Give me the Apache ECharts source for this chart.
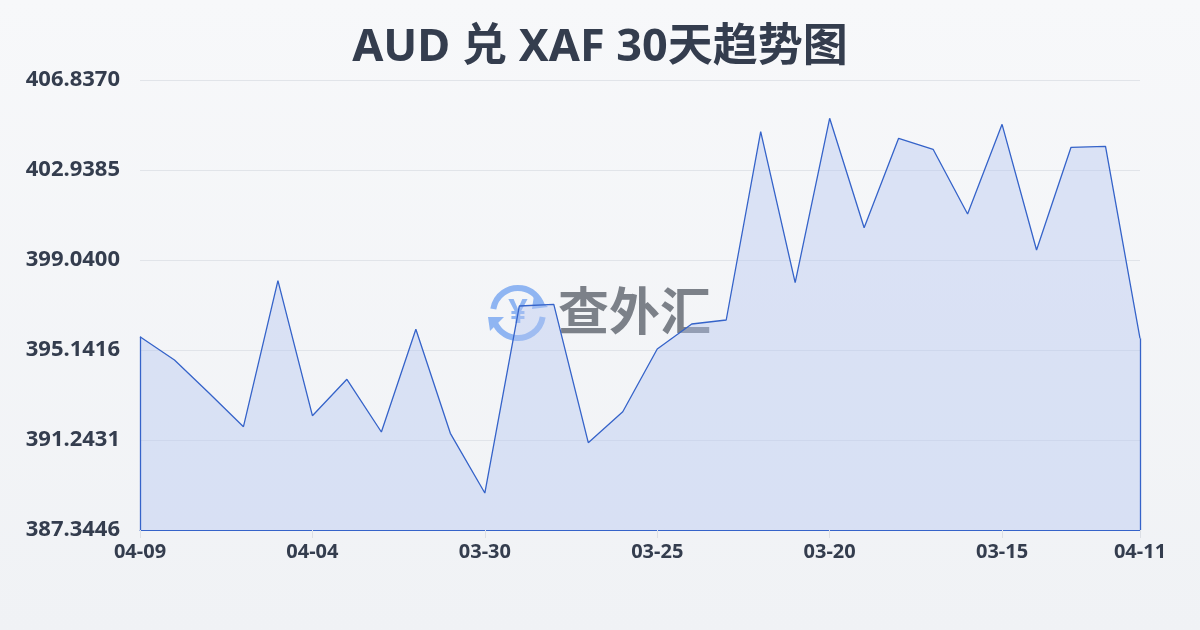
<!DOCTYPE html>
<html>
<head>
<meta charset="utf-8">
<script src="https://cdn.jsdelivr.net/npm/echarts@6/dist/echarts.min.js"></script>
<style>
  html, body { margin: 0; padding: 0; }
  body { width: 1200px; height: 630px; background: linear-gradient(180deg, #f7f8fa 0%, #f0f2f5 100%); }
  #chart { width: 1200px; height: 630px; }
</style>
</head>
<body>
<div id="chart"></div>
<script>
const titleText = 'AUD 兑 XAF 30天趋势图';
const categories = ['04-09','04-08','04-07','04-06','04-05','04-04','04-03','04-02','04-01','03-31',
                    '03-30','03-29','03-28','03-27','03-26','03-25','03-24','03-23','03-22','03-21',
                    '03-20','03-19','03-18','03-17','03-16','03-15','03-14','03-13','03-12','04-11'];
const rates = [395.718, 394.708, 393.279, 391.819, 398.143, 392.296, 393.872, 391.590, 396.038, 391.533,
               388.947, 397.047, 397.121, 391.126, 392.469, 395.185, 396.268, 396.441, 404.598, 398.057,
               405.178, 400.439, 404.311, 403.835, 401.033, 404.918, 399.473, 403.922, 403.965, 395.648];
const yTicks = [387.3446, 391.2431, 395.1416, 399.0400, 402.9385, 406.8370];

const FONT = '"Noto Sans", "Noto Sans CJK SC", sans-serif';
const TEXT = '#343d4e';
const LINE = '#3563c9';
const yMin = yTicks[0], yMax = yTicks[yTicks.length - 1];
const lastIdx = categories.length - 1;
const showIdx = (i) => i % 5 === 0 || i === lastIdx;

const chart = echarts.init(document.getElementById('chart'));
chart.setOption({
  backgroundColor: 'transparent',
  animation: false,
  title: {
    text: titleText,
    left: 'center',
    top: 21,
    textStyle: { fontFamily: FONT, fontSize: 45, fontWeight: 'bold', color: TEXT }
  },
  graphic: [
    {
      type: 'group',
      left: 488, top: 285, silent: true,
      children: [
        { type: 'arc', shape: { cx: 32, cy: 32, r: 25, startAngle: -Math.PI * 0.95, endAngle: -Math.PI * 0.1 },
          style: { fill: 'none', stroke: '#8fb5f2', lineWidth: 6 } },
        { type: 'arc', shape: { cx: 32, cy: 32, r: 25, startAngle: Math.PI * 0.05, endAngle: Math.PI * 0.9 },
          style: { fill: 'none', stroke: '#8fb5f2', lineWidth: 6 } },
        { type: 'polygon', shape: { points: [[48, 14], [62, 26], [46, 28]] }, style: { fill: '#8fb5f2' } },
        { type: 'polygon', shape: { points: [[2, 36], [18, 36], [4, 50]] }, style: { fill: '#8fb5f2' } },
        { type: 'text', style: { x: 32, y: 32, text: '¥', fontSize: 34, fontWeight: 'bold',
          fill: '#8fb5f2', align: 'center', verticalAlign: 'middle', fontFamily: FONT } },
        { type: 'text', style: { x: 72, y: 30, text: '查外汇', fontSize: 51, fontWeight: 'bold',
          fill: '#7c8189', align: 'left', verticalAlign: 'middle', fontFamily: '"Noto Sans CJK SC", sans-serif' } }
      ]
    }
  ],
  grid: { left: 140, right: 60, top: 80, bottom: 100, containLabel: false },
  xAxis: {
    type: 'category',
    boundaryGap: false,
    data: categories,
    axisLine: { show: true, lineStyle: { color: LINE, width: 1 } },
    axisTick: { show: true, interval: (i) => showIdx(i), length: 8, lineStyle: { color: '#dcdfe5' } },
    axisLabel: {
      interval: (i) => showIdx(i),
      margin: 12,
      fontFamily: FONT, fontSize: 20, fontWeight: 'bold', color: TEXT
    },
    splitLine: { show: false }
  },
  yAxis: {
    type: 'value',
    min: yMin,
    max: yMax,
    axisLine: { show: false },
    axisTick: { show: false, customValues: yTicks },
    axisLabel: {
      customValues: yTicks,
      margin: 20,
      formatter: (v) => v.toFixed(4),
      fontFamily: FONT, fontSize: 22, fontWeight: 'bold', color: TEXT
    },
    splitLine: { show: true, lineStyle: { color: '#e1e4e9', width: 1 } }
  },
  series: [{
    type: 'line',
    data: rates,
    symbol: 'none',
    lineStyle: { color: LINE, width: 1.3 },
    areaStyle: { color: 'rgba(180,198,240,0.6)', origin: 'start' },
    markLine: {
      silent: true,
      symbol: 'none',
      label: { show: false },
      lineStyle: { color: LINE, width: 1.3, type: 'solid' },
      data: [
        [{ coord: [categories[0], rates[0]] }, { coord: [categories[0], yMin] }],
        [{ coord: [categories[lastIdx], rates[lastIdx]] }, { coord: [categories[lastIdx], yMin] }]
      ]
    }
  }]
});
</script>
</body>
</html>
